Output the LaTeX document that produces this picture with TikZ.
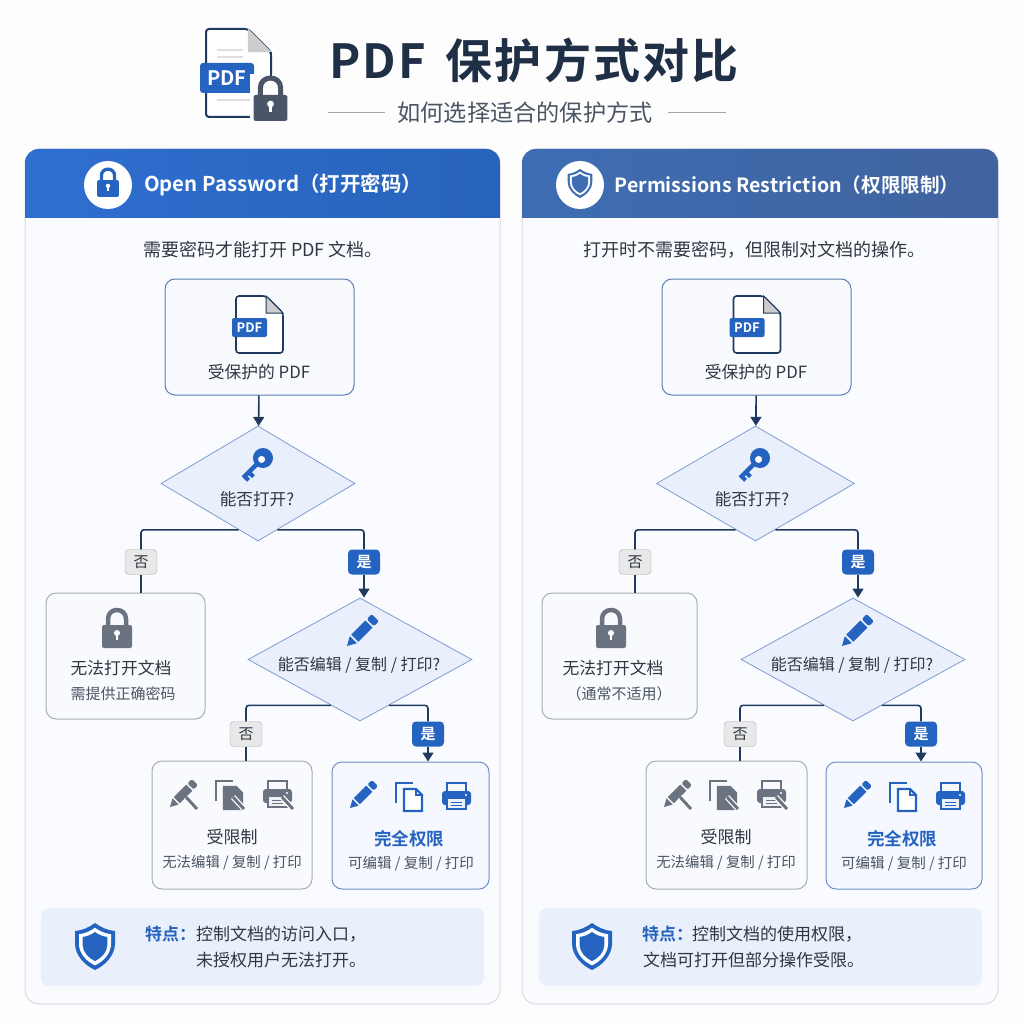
\documentclass[tikz,border=0pt]{standalone}
\usepackage{fontspec}
\setmainfont{Noto Sans CJK SC}[BoldFont={* Bold}]
\newfontfamily\titlefont{Noto Sans CJK SC Bold}[LetterSpace=4.5]
\usetikzlibrary{arrows.meta,shapes.geometric,calc}
\definecolor{navy}{HTML}{1F3A5F}
\definecolor{titlec}{HTML}{1F2F45}
\definecolor{inkc}{HTML}{2F3742}
\definecolor{subc}{HTML}{4B5563}
\definecolor{bluec}{HTML}{2563C0}
\definecolor{grayc}{HTML}{6B7280}
\definecolor{lockc}{HTML}{4A5568}
\definecolor{pagec}{HTML}{FDFDFE}
\definecolor{panelc}{HTML}{FAFBFE}
\definecolor{panelline}{HTML}{D5DBE6}
\definecolor{boxc}{HTML}{F8FAFD}
\definecolor{fullc}{HTML}{F5F8FE}
\definecolor{boxline}{HTML}{5A7FB5}
\definecolor{fullline}{HTML}{6C8FC7}
\definecolor{grayline}{HTML}{A8ACB3}
\definecolor{dialine}{HTML}{7F9DD1}
\definecolor{diafill}{HTML}{E9F0FB}
\definecolor{notefill}{HTML}{E9F0FB}
\definecolor{headaleft}{HTML}{2F6FD0}
\definecolor{headaright}{HTML}{2763BB}
\definecolor{headbleft}{HTML}{3E6DB3}
\definecolor{headbright}{HTML}{41639F}
\newcommand{\fsz}[1]{\fontsize{#1}{#1}\selectfont}
\tikzset{
    panel/.style={draw=panelline, fill=panelc, rounded corners=14pt, line width=1pt},
    flowbox/.style 2 args={draw=#1, fill=#2, rounded corners=10pt, line width=1pt, inner sep=0pt},
    decision/.style={diamond, aspect=1.7, draw=dialine, fill=diafill, line width=.8pt, inner sep=0pt},
    nolabel/.style={draw=grayline, fill=gray!18, text=inkc, rounded corners=4pt, minimum width=32pt, minimum height=25pt, inner sep=0pt, font=\fsz{15}},
    yeslabel/.style={fill=bluec, text=white, rounded corners=4pt, minimum width=32pt, minimum height=25pt, inner sep=0pt, font=\fsz{15}\bfseries},
    notebox/.style={fill=notefill, rounded corners=8pt, minimum width=443pt, minimum height=78pt},
    flow/.style={draw=navy, line width=1.6pt, rounded corners=3pt},
    flowtip/.style={flow, -{Triangle[length=9pt,width=11pt]}},
    maintext/.style={text=inkc, font=\fsz{#1}, inner sep=0pt},
    softtext/.style={text=subc, font=\fsz{#1}, inner sep=0pt},
    bluetext/.style={text=bluec, font=\fsz{#1}\bfseries, inner sep=0pt},
}
% icons, all with y pointing down
\newcommand{\padlock}[4]{%
    \begin{scope}[shift={(#1,#2)}, scale=#3]
        \draw[#4, line width=#3*4.5pt] (-9,-4) -- (-9,-10) .. controls (-9,-22) and (9,-22) .. (9,-10) -- (9,-4);
        \fill[#4, rounded corners=#3*2pt] (-15,-4) rectangle (15,19);
        \fill[white] (0,4) circle (3);
        \fill[white] (-1.4,5) rectangle (1.4,11);
    \end{scope}}
\newcommand{\shieldpath}{(0,-23.5) .. controls (6,-19) and (13,-16) .. (20,-15.5) -- (20,-3) .. controls (20,9) and (10,19) .. (0,23.5) .. controls (-10,19) and (-20,9) .. (-20,-3) -- (-20,-15.5) .. controls (-13,-16) and (-6,-19) .. (0,-23.5) -- cycle}
\newcommand{\shieldicon}[3]{%
    \begin{scope}[shift={(#1,#2)}, scale=#3]
        \fill[bluec] \shieldpath;
        \fill[white, scale=.8] \shieldpath;
        \fill[bluec, scale=.62] \shieldpath;
    \end{scope}}
\newcommand{\pdfdoc}[2]{%
    \begin{scope}[shift={(#1,#2)}]
        \draw[navy, fill=white, line width=1.6pt, rounded corners=3pt] (0,0) -- (30,0) -- (47,17) -- (47,57) -- (0,57) -- cycle;
        \draw[navy, fill=gray!40, line width=1pt] (30,0) -- (30,17) -- (47,17) -- cycle;
        \fill[bluec, rounded corners=2pt] (-4,22) rectangle (31,41);
        \node[text=white, font=\fsz{13}\bfseries, inner sep=0pt] at (13.5,31.5) {PDF};
    \end{scope}}
\newcommand{\keyicon}[2]{%
    \begin{scope}[shift={(#1,#2)}, rotate=225]
        \fill[bluec] (0,0) circle (10);
        \fill[white] (2,0) circle (3.5);
        \fill[bluec] (8,-2.2) rectangle (28,2.2);
        \fill[bluec] (18,0) rectangle (22,-6.5);
        \fill[bluec] (24,0) rectangle (28,-5.5);
    \end{scope}}
\newcommand{\penicon}[4]{%
    \begin{scope}[shift={(#1,#2)}, rotate=45, scale=#4]
        \fill[#3] (0,0) -- (9,-5) -- (9,5) -- cycle;
        \fill[#3] (11,-5) rectangle (31,5);
        \fill[#3, rounded corners=1.5pt] (33,-5) rectangle (40,5);
    \end{scope}}
\newcommand{\copyicon}[4]{%
    \begin{scope}[shift={(#1,#2)}]
        \draw[#3, line width=2.2pt] (0,20) -- (0,0) -- (17,0);
        \draw[#3, fill=#4, line width=2.2pt] (8,6) -- (20,6) -- (26,12) -- (26,28) -- (8,28) -- cycle;
        \draw[#3, line width=1.2pt] (20,6) -- (20,12) -- (26,12);
    \end{scope}}
\newcommand{\printicon}[3]{%
    \begin{scope}[shift={(#1,#2)}]
        \draw[#3, line width=2pt] (5,9) -- (5,1) -- (24,1) -- (24,9);
        \fill[#3, rounded corners=3pt] (0,9) rectangle (29,23);
        \draw[#3, fill=#3!10!white, line width=2pt] (5,16) rectangle (24,27);
        \draw[#3, line width=.8pt] (9,20) -- (20,20) (9,23) -- (20,23);
        \fill[white] (24,13) circle (1.2);
    \end{scope}}
\newcommand{\slashmark}[2]{%
    \draw[white, line width=5.5pt] (#1,#2) -- ++(11,12);
    \draw[grayc, line width=3pt] (#1,#2) -- ++(11,12);}
\newcommand{\limiticons}[1]{%
    \begin{scope}[xshift=#1pt]
        \penicon{170}{807}{grayc}{.88}
        \slashmark{186}{797}
        \copyicon{216}{781}{grayc}{grayc}
        \slashmark{233}{797}
        \printicon{263}{780}{grayc}
        \slashmark{282}{797}
    \end{scope}}
\newcommand{\fullicons}[1]{%
    \begin{scope}[xshift=#1pt]
        \penicon{350}{808}{bluec}{.88}
        \copyicon{396}{783}{bluec}{white}
        \printicon{442}{782}{bluec}
    \end{scope}}
\begin{document}
\begin{tikzpicture}[x=1pt, y=-1pt]
    \useasboundingbox (0,0) rectangle (1024,1024);
    \fill[pagec] (0,0) rectangle (1024,1024);
    % title
    \draw[navy, fill=white, line width=2pt, rounded corners=3pt] (206,29) -- (248,29) -- (271,52) -- (271,117) -- (206,117) -- cycle;
    \draw[gray!40, fill=gray!40] (248,29) -- (248,52) -- (271,52) -- cycle;
    \draw[gray!25, line width=2pt] (217,50) -- (243,50) (217,57) -- (243,57) (217,100) -- (250,100);
    \fill[bluec, rounded corners=3pt] (200,63) rectangle (254,93);
    \node[text=white, font=\fsz{20}\bfseries, inner sep=0pt] (titlepdf) at (227,78) {PDF};
    \fill[pagec] (250,74) rectangle (292,124);
    \draw[navy, line width=2pt] (271,52) -- (271,76);
    \padlock{270.5}{99.5}{1.13}{lockc}
    \node[text=titlec, font=\titlefont\fsz{47}, inner sep=0pt] (title) at (534,60) {PDF\hspace{7pt} 保护方式对比};
    \node[text=subc, font=\fsz{23.2}, inner sep=0pt] (subtitle) at (525,113) {如何选择适合的保护方式};
    \draw[gray!70, line width=1pt] (328,113) -- (385,113);
    \draw[gray!70, line width=1pt] (668,113) -- (726,113);
    % left panel
    \node[panel, minimum width=475pt, minimum height=855pt] (panela) at (262.5,576.5) {};
    \shade[left color=headaleft, right color=headaright] (25,218) -- (25,163) .. controls (25,155) and (31,149) .. (39,149) -- (486,149) .. controls (494,149) and (500,155) .. (500,163) -- (500,218) -- cycle;
    \fill[white] (108,185) circle (24);
    \padlock{108}{183}{.73}{bluec}
    \node[text=white, font=\fsz{20.4}\bfseries, inner sep=0pt] (heada) at (283,185) {Open Password（打开密码）};
    \node[maintext=18] (introa) at (263,250) {需要密码才能打开 PDF 文档。};
    % left flow
    \node[flowbox={boxline}{boxc}, minimum width=189pt, minimum height=116pt] (pdfa) at (259.5,337) {};
    \pdfdoc{236}{296}
    \node[maintext=16.8] (pdfatext) at (259,372) {受保护的 PDF};
    \node[decision, minimum width=194pt, minimum height=115pt] (opena) at (258,483.5) {};
    \keyicon{263}{458}
    \node[maintext=16.6] (openatext) at (257,499) {能否打开?};
    \node[nolabel] (noa) at (141,562) {否};
    \node[yeslabel] (yesa) at (364,562) {是};
    \node[flowbox={grayline}{boxc}, minimum width=159pt, minimum height=126pt] (faila) at (125.5,656) {};
    \padlock{117}{629}{1}{grayc}
    \node[maintext=16.8] (failatext) at (121,668) {无法打开文档};
    \node[softtext=15] (failasub) at (123,694) {需提供正确密码};
    \node[decision, minimum width=224pt, minimum height=123pt] (edita) at (360,659.5) {};
    \penicon{347}{646}{bluec}{1}
    \node[maintext=16] (editatext) at (359,665) {能否编辑 / 复制 / 打印?};
    \node[nolabel] (noedita) at (246,734) {否};
    \node[yeslabel] (yesedita) at (428,734) {是};
    \node[flowbox={grayline}{boxc}, minimum width=160pt, minimum height=128pt] (limita) at (232,825) {};
    \limiticons{0}
    \node[maintext=17] (limitatext) at (232,837) {受限制};
    \node[softtext=14.4] (limitasub) at (232,862.5) {无法编辑 / 复制 / 打印};
    \node[flowbox={fullline}{fullc}, minimum width=157pt, minimum height=127pt] (fulla) at (410.5,825.5) {};
    \fullicons{0}
    \node[bluetext=17.5] (fullatext) at (409,839) {完全权限};
    \node[softtext=14.5] (fullasub) at (411,864) {可编辑 / 复制 / 打印};
    % left connectors
    \draw[flowtip] (pdfa) -- (opena);
    \draw[flow] ($(opena.south)!0.2!(opena.west)$) -| (noa);
    \draw[flow] (noa.south) -- (noa.south |- faila.north);
    \draw[flow] ($(opena.south)!0.2!(opena.east)$) -| (yesa);
    \draw[flowtip] (yesa.south) -- (yesa.south |- edita.north);
    \draw[flow] ($(edita.south)!0.26!(edita.west)$) -| (noedita);
    \draw[flow] (noedita.south) -- (noedita.south |- limita.north);
    \draw[flow] ($(edita.south)!0.26!(edita.east)$) -| (yesedita);
    \draw[flowtip] (yesedita.south) -- (yesedita.south |- fulla.north);
    % left note
    \node[notebox] (notea) at (262.5,947) {};
    \shieldicon{95}{946.5}{1}
    \node[bluetext=17, anchor=west] (noteatag) at (145,934) {特点：};
    \node[maintext=17, anchor=west] (noteaone) at (196,934) {控制文档的访问入口，};
    \node[maintext=17, anchor=west] (noteatwo) at (196,960) {未授权用户无法打开。};
    % right panel
    \node[panel, minimum width=476pt, minimum height=855pt] (panelb) at (760,576.5) {};
    \shade[left color=headbleft, right color=headbright] (522,218) -- (522,163) .. controls (522,155) and (528,149) .. (536,149) -- (984,149) .. controls (992,149) and (998,155) .. (998,163) -- (998,218) -- cycle;
    \fill[white] (580,185) circle (24);
    \begin{scope}[shift={(580,183.5)}, scale=.62]
        \fill[headbleft] \shieldpath;
        \fill[white, scale=.82] \shieldpath;
        \fill[headbleft, scale=.66] \shieldpath;
    \end{scope}
    \node[text=white, font=\fsz{19.6}\bfseries, inner sep=0pt] (headb) at (787,185) {Permissions Restriction（权限限制）};
    \node[maintext=18] (introb) at (754,250) {打开时不需要密码，但限制对文档的操作。};
    % right flow
    \node[flowbox={boxline}{boxc}, minimum width=189pt, minimum height=116pt] (pdfb) at (756.5,337) {};
    \pdfdoc{733.5}{296}
    \node[maintext=16.8] (pdfbtext) at (756,372) {受保护的 PDF};
    \node[decision, minimum width=198pt, minimum height=115pt] (openb) at (755.5,483.5) {};
    \keyicon{760}{458}
    \node[maintext=16.6] (openbtext) at (752,499) {能否打开?};
    \node[nolabel] (nob) at (635,562) {否};
    \node[yeslabel] (yesb) at (858,562) {是};
    \node[flowbox={grayline}{boxc}, minimum width=155pt, minimum height=126pt] (failb) at (619.5,656) {};
    \padlock{611}{629}{1}{grayc}
    \node[maintext=16.8] (failbtext) at (613,668) {无法打开文档};
    \node[softtext=15] (failbsub) at (619,694) {（通常不适用）};
    \node[decision, minimum width=224pt, minimum height=123pt] (editb) at (853,659.5) {};
    \penicon{842}{646}{bluec}{1}
    \node[maintext=16] (editbtext) at (852,665) {能否编辑 / 复制 / 打印?};
    \node[nolabel] (noeditb) at (740,734) {否};
    \node[yeslabel] (yeseditb) at (921,734) {是};
    \node[flowbox={grayline}{boxc}, minimum width=161pt, minimum height=128pt] (limitb) at (726.5,825) {};
    \limiticons{494}
    \node[maintext=17] (limitbtext) at (726,837) {受限制};
    \node[softtext=14.4] (limitbsub) at (726,862.5) {无法编辑 / 复制 / 打印};
    \node[flowbox={fullline}{fullc}, minimum width=156pt, minimum height=127pt] (fullb) at (904,825.5) {};
    \fullicons{494}
    \node[bluetext=17.5] (fullbtext) at (902,839) {完全权限};
    \node[softtext=14.5] (fullbsub) at (904,864) {可编辑 / 复制 / 打印};
    % right connectors
    \draw[flowtip] (pdfb) -- (openb);
    \draw[flow] ($(openb.south)!0.2!(openb.west)$) -| (nob);
    \draw[flow] (nob.south) -- (nob.south |- failb.north);
    \draw[flow] ($(openb.south)!0.2!(openb.east)$) -| (yesb);
    \draw[flowtip] (yesb.south) -- (yesb.south |- editb.north);
    \draw[flow] ($(editb.south)!0.26!(editb.west)$) -| (noeditb);
    \draw[flow] (noeditb.south) -- (noeditb.south |- limitb.north);
    \draw[flow] ($(editb.south)!0.26!(editb.east)$) -| (yeseditb);
    \draw[flowtip] (yeseditb.south) -- (yeseditb.south |- fullb.north);
    % right note
    \node[notebox] (noteb) at (760.5,947) {};
    \shieldicon{592}{946.5}{1}
    \node[bluetext=17, anchor=west] (notebtag) at (642,934) {特点：};
    \node[maintext=17, anchor=west] (notebone) at (692,934) {控制文档的使用权限，};
    \node[maintext=17, anchor=west] (notebtwo) at (643,960) {文档可打开但部分操作受限。};
\end{tikzpicture}
\end{document}
